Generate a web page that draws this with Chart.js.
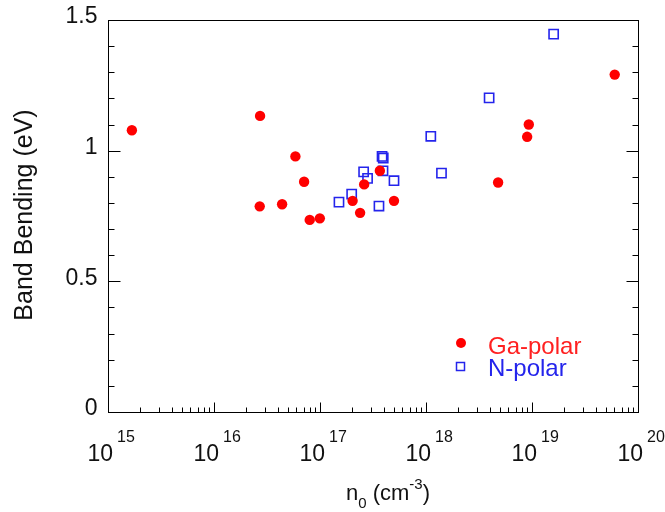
<!DOCTYPE html>
<html>
<head>
<meta charset="utf-8">
<script src="https://cdn.jsdelivr.net/npm/chart.js@4.4.0/dist/chart.umd.min.js"></script>
<style>
  html, body { margin: 0; padding: 0; background: #fff; }
</style>
</head>
<body>
<canvas id="bandChart" width="665" height="512"></canvas>
<script>
// Ga-polar samples: carrier density n0 (cm^-3) and band bending (eV)
const gaDensity = [1.68e15, 2.72e16, 2.7e16, 4.39e16, 5.86e16, 7.08e16, 8.0e16, 9.96e16,
    2.03e17, 2.39e17, 2.61e17, 3.67e17, 4.99e17, 4.79e18, 9.0e18, 9.33e18, 6.03e19];
const gaBending = [1.078, 1.133, 0.787, 0.795, 0.978, 0.881, 0.735, 0.741,
    0.808, 0.762, 0.871, 0.923, 0.808, 0.878, 1.053, 1.100, 1.291];

// N-polar samples
const nDensity = [1.51e17, 1.99e17, 2.58e17, 2.81e17, 3.6e17, 3.85e17, 3.95e17, 3.93e17,
    4.99e17, 1.11e18, 1.4e18, 3.94e18, 1.6e19];
const nBending = [0.803, 0.834, 0.919, 0.894, 0.788, 0.978, 0.972, 0.923,
    0.885, 1.055, 0.914, 1.202, 1.446];

const seriesNames = ['Ga-polar', 'N-polar'];
const xTickExponents = [15, 16, 17, 18, 19, 20];
const yTickValues = [0, 0.5, 1, 1.5];
const yTickLabels = ['0', '0.5', '1', '1.5'];

const RED = '#ff0000';
const BLUE = '#2424ec';
const FONT = '"Liberation Sans", Arial, Helvetica, sans-serif';

function toPoints(xs, ys) {
    return xs.map(function (x, i) { return { x: x, y: ys[i] }; });
}

// frame, inward ticks, tick labels, titles and the in-plot legend
const decorations = {
    id: 'decorations',
    afterDraw: function (chart) {
        const ctx = chart.ctx;
        const area = chart.chartArea;
        const xs = chart.scales.x;
        const ys = chart.scales.y;
        const L = Math.round(area.left) + 0.5, R = Math.round(area.right) + 0.5;
        const T = Math.round(area.top) + 0.5, B = Math.round(area.bottom) + 0.5;

        ctx.save();
        ctx.strokeStyle = '#000';
        ctx.lineWidth = 1;
        ctx.strokeRect(L, T, R - L, B - T);

        // x ticks (bottom only)
        ctx.beginPath();
        for (let e = 15; e < 20; e++) {
            for (let m = 1; m <= 9; m++) {
                const px = Math.round(xs.getPixelForValue(m * Math.pow(10, e))) + 0.5;
                const len = m === 1 ? 10 : 5;
                ctx.moveTo(px, B); ctx.lineTo(px, B - len);
            }
        }
        const pEnd = Math.round(xs.getPixelForValue(1e20)) + 0.5;
        ctx.moveTo(pEnd, B); ctx.lineTo(pEnd, B - 10);

        // y ticks left and right
        for (let k = 0; k <= 15; k++) {
            const py = Math.round(ys.getPixelForValue(k / 10)) + 0.5;
            const len = k % 5 === 0 ? 12 : 6;
            ctx.moveTo(L, py); ctx.lineTo(L + len, py);
            ctx.moveTo(R, py); ctx.lineTo(R - len, py);
        }
        ctx.stroke();

        ctx.fillStyle = '#111';
        // y tick labels
        ctx.font = '23px ' + FONT;
        ctx.textAlign = 'right';
        ctx.textBaseline = 'middle';
        yTickValues.forEach(function (v, i) {
            ctx.fillText(yTickLabels[i], L - 11, ys.getPixelForValue(v) - 3);
        });

        // x tick labels 10^n
        ctx.textAlign = 'left';
        ctx.textBaseline = 'alphabetic';
        xTickExponents.forEach(function (e) {
            const px = xs.getPixelForValue(Math.pow(10, e));
            ctx.font = '23px ' + FONT;
            const wBase = ctx.measureText('10').width;
            ctx.font = '16px ' + FONT;
            const wExp = ctx.measureText(String(e)).width;
            const x0 = px + 6 - wBase;
            ctx.font = '23px ' + FONT;
            ctx.fillText('10', x0 - 1, 461);
            ctx.font = '16px ' + FONT;
            ctx.fillText(String(e), x0 + wBase + 3, 442);
        });

        // x title: n0 (cm-3)
        const parts = [
            { t: 'n', f: 22, dy: 0 },
            { t: '0', f: 15, dy: 8 },
            { t: ' (cm', f: 22, dy: 0 },
            { t: '-3', f: 15, dy: -11 },
            { t: ')', f: 22, dy: 0 }
        ];
        let total = 0;
        parts.forEach(function (p) {
            ctx.font = p.f + 'px ' + FONT;
            p.w = ctx.measureText(p.t).width;
            total += p.w;
        });
        let cx = 388 - total / 2;
        parts.forEach(function (p) {
            ctx.font = p.f + 'px ' + FONT;
            ctx.fillText(p.t, cx, 500 + p.dy);
            cx += p.w;
        });

        // y title
        ctx.save();
        ctx.translate(25, 215);
        ctx.rotate(-Math.PI / 2);
        ctx.textAlign = 'center';
        ctx.textBaseline = 'middle';
        ctx.font = '25px ' + FONT;
        ctx.fillText('Band Bending (eV)', 0, 0);
        ctx.restore();

        // legend inside the plot
        ctx.fillStyle = RED;
        ctx.beginPath();
        ctx.arc(461, 343, 5, 0, Math.PI * 2);
        ctx.fill();
        ctx.strokeStyle = BLUE;
        ctx.lineWidth = 1.5;
        ctx.strokeRect(456.5, 362.5, 8, 8);

        ctx.font = '24px ' + FONT;
        ctx.textAlign = 'left';
        ctx.textBaseline = 'middle';
        ctx.fillStyle = '#ff2020';
        ctx.fillText(seriesNames[0], 488, 347);
        ctx.fillStyle = BLUE;
        ctx.fillText(seriesNames[1], 488, 369);
        ctx.restore();
    }
};

new Chart(document.getElementById('bandChart').getContext('2d'), {
    type: 'scatter',
    data: {
        datasets: [{
            label: seriesNames[0],
            data: toPoints(gaDensity, gaBending),
            pointStyle: 'circle',
            pointRadius: 5.2,
            pointBorderWidth: 0,
            backgroundColor: RED,
            borderColor: RED
        }, {
            label: seriesNames[1],
            data: toPoints(nDensity, nBending),
            pointStyle: 'rect',
            pointRadius: 6.5,
            pointBorderWidth: 1.6,
            backgroundColor: 'rgba(0,0,0,0)',
            borderColor: BLUE
        }]
    },
    options: {
        responsive: false,
        animation: false,
        devicePixelRatio: 1,
        layout: { padding: { left: 108, right: 27, top: 20, bottom: 100 } },
        plugins: {
            legend: { display: false },
            tooltip: { enabled: false }
        },
        scales: {
            x: {
                type: 'logarithmic',
                min: 1e15,
                max: 1e20,
                ticks: { display: false },
                grid: { display: false, drawTicks: false },
                border: { display: false }
            },
            y: {
                type: 'linear',
                min: 0,
                max: 1.5,
                ticks: { display: false },
                grid: { display: false, drawTicks: false },
                border: { display: false }
            }
        }
    },
    plugins: [decorations]
});
</script>
</body>
</html>
